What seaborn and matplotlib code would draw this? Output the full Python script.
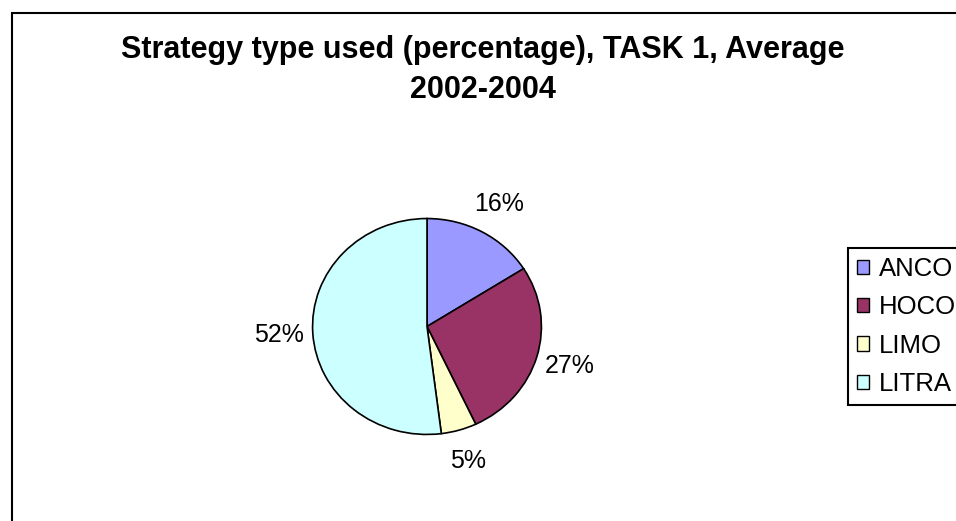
import matplotlib
matplotlib.use("Agg")
import matplotlib.pyplot as plt
from matplotlib.patches import Rectangle
import seaborn as sns

# Strategy shares, TASK 1, averaged over 2002-2004
categories = ["ANCO", "HOCO", "LIMO", "LITRA"]
shares = [16, 27, 5, 52]
colors = ["#9999FF", "#993366", "#FFFFCC", "#CCFFFF"]
title_lines = ["Strategy type used (percentage), TASK 1, Average", "2002-2004"]

sns.set_theme(style="white")
plt.rcParams["font.family"] = ["Liberation Sans", "DejaVu Sans"]
plt.rcParams["text.color"] = "black"

W, H = 956, 521
fig = plt.figure(figsize=(W / 100, H / 100), dpi=100)
fig.patch.set_facecolor("white")


def fx(px):
    return px / W


def fy(py):
    return 1 - py / H


# chart-area frame (runs off the right and bottom edges)
fig.patches.append(Rectangle((fx(12), -0.2), 1.2, fy(13) + 0.2,
                             transform=fig.transFigure, fill=False,
                             edgecolor="black", linewidth=1.5))

# two-line bold title
for line, base in zip(title_lines, [58, 98]):
    fig.text(fx(483), fy(base), line, ha="center", va="baseline",
             fontsize=22, fontweight="bold", color="black")

# pie drawn in an axes box that is slightly wider than tall
ax = fig.add_axes([fx(312), fy(435), fx(542) - fx(312), fy(218) - fy(435)])
wedges, _, autotexts = ax.pie(
    shares, colors=colors, startangle=90, counterclock=False,
    wedgeprops=dict(edgecolor="black", linewidth=1.2),
    autopct=lambda p: f"{p:.0f}%", pctdistance=1.3,
    textprops=dict(fontsize=18, color="black"),
)
ax.set_aspect("auto")
ax.set_xlim(-1.005, 1.005)
ax.set_ylim(-1.005, 1.005)
ax.axis("off")

# legend box, then the entries inside it
fig.patches.append(Rectangle((fx(848), fy(405)), 1.0, fy(248) - fy(405),
                             transform=fig.transFigure, fill=True,
                             facecolor="white", edgecolor="black",
                             linewidth=1.5, zorder=3))
leg = fig.legend(wedges, categories, loc="center left",
                 bbox_to_anchor=(fx(857), fy(326.5)),
                 bbox_transform=fig.transFigure,
                 fontsize=18.5, frameon=False,
                 handlelength=0.47, handleheight=0.47, handletextpad=0.38,
                 labelspacing=0.56, borderpad=0, borderaxespad=0)
leg.set_zorder(4)
for h in leg.legend_handles:
    h.set_edgecolor("black")
    h.set_linewidth(1.0)

fig.savefig("out.png", dpi=100, facecolor="white")
